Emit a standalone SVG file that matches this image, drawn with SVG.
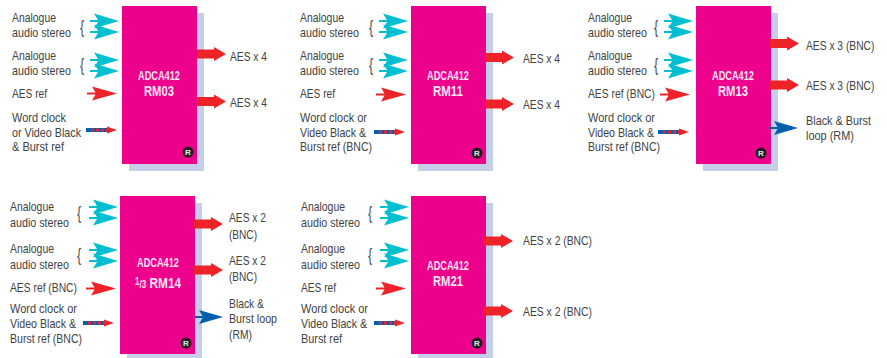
<svg xmlns="http://www.w3.org/2000/svg" width="887" height="358" viewBox="0 0 887 358">
<style>
text{font-family:"Liberation Sans",Arial,sans-serif}
.l{font-size:13px;fill:#424242}
.b{font-size:18px;fill:#505050;text-anchor:middle}
.t{font-size:12.5px;font-weight:bold;fill:#fde4f2;text-anchor:middle}
.n{font-size:14.5px;font-weight:bold;fill:#fde4f2;text-anchor:middle}
.r{font-size:8px;font-weight:bold;fill:#e8e8e8;text-anchor:middle}
.body{fill:#ec008c}
.sh{fill:#c5d0e8}
.bd{fill:#231f20}
</style>
<defs>
<g id="cy"><path d="M0,0L-25,-7.5L-21,-1L-29,-1L-29,1L-21,1L-25,7.5Z" fill="#00bfd0"/></g>
<g id="ref"><path d="M0,0L-25,-7L-21.500,-1L-30,-1L-30,1L-21.500,1L-25,7Z" fill="#ee2328"/></g>
<g id="out"><path d="M0,0L-12,-7L-12,-4.5L-29,-4.5L-29,4.5L-12,4.5L-12,7Z" fill="#ee2328"/></g>
<g id="blu"><path d="M0,0L-24,-7L-20.500,-1L-28,-1L-28,1L-20.500,1L-24,7Z" fill="#0060ae"/></g>
<g id="dot"><rect x="-31" y="-2" width="24" height="4" fill="#0060ae"/><path d="M-26,0H-8" stroke="#ee2328" stroke-width="3" stroke-dasharray="3 2" fill="none"/><path d="M0,0L-10,-3.5L-10,3.5Z" fill="#ee2328"/></g>
</defs>

<g id="node-rm03">
<rect class="sh" x="129" y="13" width="75" height="158"/><rect class="body" x="122" y="6" width="75" height="158"/>
<text class="t" x="159" y="80" textLength="42" lengthAdjust="spacingAndGlyphs">ADCA412</text>
<text class="n" x="159" y="96" textLength="30" lengthAdjust="spacingAndGlyphs">RM03</text>
<circle class="bd" cx="188" cy="152" r="5.5"/><text class="r" x="188" y="155">R</text>
<text class="l" x="12" y="22" textLength="44" lengthAdjust="spacingAndGlyphs">Analogue</text>
<text class="l" transform="translate(12 37) scale(.825 1)">audio stereo</text>
<text class="b" transform="translate(82 33) scale(.7 1)">{</text>
<text class="l" x="12" y="60" textLength="44" lengthAdjust="spacingAndGlyphs">Analogue</text>
<text class="l" transform="translate(12 75) scale(.825 1)">audio stereo</text>
<text class="b" transform="translate(82 71) scale(.7 1)">{</text>
<text class="l" x="12" y="98" textLength="35" lengthAdjust="spacingAndGlyphs">AES ref</text>
<text class="l" x="12" y="122" textLength="54" lengthAdjust="spacingAndGlyphs">Word clock</text>
<text class="l" x="12" y="137" textLength="69" lengthAdjust="spacingAndGlyphs">or Video Black</text>
<text class="l" x="12" y="151" textLength="52" lengthAdjust="spacingAndGlyphs">&amp; Burst ref</text>
<text class="l" x="230" y="61" textLength="37" lengthAdjust="spacingAndGlyphs">AES x 4</text>
<text class="l" x="230" y="107" textLength="37" lengthAdjust="spacingAndGlyphs">AES x 4</text>
</g>

<g id="node-rm11">
<rect class="sh" x="418" y="13" width="75" height="158"/><rect class="body" x="411" y="6" width="75" height="158"/>
<text class="t" x="448" y="80" textLength="42" lengthAdjust="spacingAndGlyphs">ADCA412</text>
<text class="n" x="448" y="96" textLength="30" lengthAdjust="spacingAndGlyphs">RM11</text>
<circle class="bd" cx="477" cy="153" r="5.5"/><text class="r" x="477" y="156">R</text>
<text class="l" x="300" y="22" textLength="44" lengthAdjust="spacingAndGlyphs">Analogue</text>
<text class="l" transform="translate(300 37) scale(.825 1)">audio stereo</text>
<text class="b" transform="translate(371 33) scale(.7 1)">{</text>
<text class="l" x="300" y="60" textLength="44" lengthAdjust="spacingAndGlyphs">Analogue</text>
<text class="l" transform="translate(300 75) scale(.825 1)">audio stereo</text>
<text class="b" transform="translate(371 71) scale(.7 1)">{</text>
<text class="l" x="300" y="98" textLength="35" lengthAdjust="spacingAndGlyphs">AES ref</text>
<text class="l" x="300" y="122" textLength="67" lengthAdjust="spacingAndGlyphs">Word clock or</text>
<text class="l" x="300" y="137" textLength="66" lengthAdjust="spacingAndGlyphs">Video Black &amp;</text>
<text class="l" x="300" y="151" textLength="72" lengthAdjust="spacingAndGlyphs">Burst ref (BNC)</text>
<text class="l" x="523" y="63" textLength="37" lengthAdjust="spacingAndGlyphs">AES x 4</text>
<text class="l" x="523" y="109" textLength="37" lengthAdjust="spacingAndGlyphs">AES x 4</text>
</g>

<g id="node-rm13">
<rect class="sh" x="703" y="13" width="75" height="158"/><rect class="body" x="696" y="6" width="75" height="158"/>
<text class="t" x="733" y="80" textLength="42" lengthAdjust="spacingAndGlyphs">ADCA412</text>
<text class="n" x="733" y="96" textLength="30" lengthAdjust="spacingAndGlyphs">RM13</text>
<circle class="bd" cx="761" cy="153" r="5.5"/><text class="r" x="761" y="156">R</text>
<text class="l" x="588" y="22" textLength="44" lengthAdjust="spacingAndGlyphs">Analogue</text>
<text class="l" transform="translate(588 37) scale(.825 1)">audio stereo</text>
<text class="b" transform="translate(656 33) scale(.7 1)">{</text>
<text class="l" x="588" y="60" textLength="44" lengthAdjust="spacingAndGlyphs">Analogue</text>
<text class="l" transform="translate(588 75) scale(.825 1)">audio stereo</text>
<text class="b" transform="translate(656 71) scale(.7 1)">{</text>
<text class="l" x="588" y="98" textLength="67" lengthAdjust="spacingAndGlyphs">AES ref (BNC)</text>
<text class="l" x="588" y="122" textLength="67" lengthAdjust="spacingAndGlyphs">Word clock or</text>
<text class="l" x="588" y="137" textLength="66" lengthAdjust="spacingAndGlyphs">Video Black &amp;</text>
<text class="l" x="588" y="151" textLength="72" lengthAdjust="spacingAndGlyphs">Burst ref (BNC)</text>
<text class="l" transform="translate(806 50) scale(.79 1)">AES x 3 (BNC)</text>
<text class="l" transform="translate(806 90) scale(.79 1)">AES x 3 (BNC)</text>
<text class="l" x="806" y="125" textLength="65" lengthAdjust="spacingAndGlyphs">Black &amp; Burst</text>
<text class="l" x="806" y="140" textLength="48" lengthAdjust="spacingAndGlyphs">loop (RM)</text>
</g>

<g id="node-rm14">
<rect class="sh" x="127" y="203" width="75" height="155"/><rect class="body" x="120" y="196" width="75" height="158"/>
<text class="t" x="158" y="267" textLength="42" lengthAdjust="spacingAndGlyphs">ADCA412</text>
<text class="n" x="158" y="288" textLength="46" lengthAdjust="spacingAndGlyphs"><tspan font-size="10" dy="-3">1</tspan><tspan font-size="10" dy="3">/3</tspan> RM14</text>
<circle class="bd" cx="186" cy="343" r="5.5"/><text class="r" x="186" y="346">R</text>
<text class="l" x="10" y="211" textLength="44" lengthAdjust="spacingAndGlyphs">Analogue</text>
<text class="l" transform="translate(10 227) scale(.825 1)">audio stereo</text>
<text class="b" transform="translate(79 219) scale(.7 1)">{</text>
<text class="l" x="10" y="253" textLength="44" lengthAdjust="spacingAndGlyphs">Analogue</text>
<text class="l" transform="translate(10 269) scale(.825 1)">audio stereo</text>
<text class="b" transform="translate(79 261) scale(.7 1)">{</text>
<text class="l" x="10" y="292" textLength="67" lengthAdjust="spacingAndGlyphs">AES ref (BNC)</text>
<text class="l" x="10" y="313" textLength="67" lengthAdjust="spacingAndGlyphs">Word clock or</text>
<text class="l" x="10" y="328" textLength="66" lengthAdjust="spacingAndGlyphs">Video Black &amp;</text>
<text class="l" x="10" y="343" textLength="72" lengthAdjust="spacingAndGlyphs">Burst ref (BNC)</text>
<text class="l" x="229" y="222" textLength="37" lengthAdjust="spacingAndGlyphs">AES x 2</text>
<text class="l" x="229" y="239" textLength="28" lengthAdjust="spacingAndGlyphs">(BNC)</text>
<text class="l" x="229" y="265" textLength="37" lengthAdjust="spacingAndGlyphs">AES x 2</text>
<text class="l" x="229" y="281" textLength="28" lengthAdjust="spacingAndGlyphs">(BNC)</text>
<text class="l" x="229" y="308" textLength="35" lengthAdjust="spacingAndGlyphs">Black &amp;</text>
<text class="l" x="229" y="323" textLength="48" lengthAdjust="spacingAndGlyphs">Burst loop</text>
<text class="l" x="229" y="339" textLength="23" lengthAdjust="spacingAndGlyphs">(RM)</text>
</g>

<g id="node-rm21">
<rect class="sh" x="418" y="203" width="75" height="155"/><rect class="body" x="411" y="196" width="75" height="158"/>
<text class="t" x="448" y="270" textLength="42" lengthAdjust="spacingAndGlyphs">ADCA412</text>
<text class="n" x="448" y="286" textLength="30" lengthAdjust="spacingAndGlyphs">RM21</text>
<circle class="bd" cx="477" cy="343" r="5.5"/><text class="r" x="477" y="346">R</text>
<text class="l" x="301" y="211" textLength="44" lengthAdjust="spacingAndGlyphs">Analogue</text>
<text class="l" transform="translate(301 227) scale(.825 1)">audio stereo</text>
<text class="b" transform="translate(370 219) scale(.7 1)">{</text>
<text class="l" x="301" y="253" textLength="44" lengthAdjust="spacingAndGlyphs">Analogue</text>
<text class="l" transform="translate(301 269) scale(.825 1)">audio stereo</text>
<text class="b" transform="translate(370 261) scale(.7 1)">{</text>
<text class="l" x="301" y="292" textLength="35" lengthAdjust="spacingAndGlyphs">AES ref</text>
<text class="l" x="301" y="313" textLength="67" lengthAdjust="spacingAndGlyphs">Word clock or</text>
<text class="l" x="301" y="328" textLength="66" lengthAdjust="spacingAndGlyphs">Video Black &amp;</text>
<text class="l" x="301" y="343" textLength="41" lengthAdjust="spacingAndGlyphs">Burst ref</text>
<text class="l" x="523" y="245" textLength="69" lengthAdjust="spacingAndGlyphs">AES x 2 (BNC)</text>
<text class="l" x="523" y="316" textLength="69" lengthAdjust="spacingAndGlyphs">AES x 2 (BNC)</text>
</g>

<g id="connectors">
<use href="#cy" x="119" y="21"/><use href="#cy" x="119" y="32"/><use href="#cy" x="119" y="60"/><use href="#cy" x="119" y="71"/>
<use href="#ref" x="117" y="93.5"/><use href="#dot" x="117" y="130"/>
<use href="#out" x="226" y="54"/><use href="#out" x="226" y="101.5"/>

<use href="#cy" x="408" y="21"/><use href="#cy" x="408" y="32"/><use href="#cy" x="408" y="60"/><use href="#cy" x="408" y="71"/>
<use href="#ref" x="406" y="94.5"/><use href="#dot" x="405" y="132"/>
<use href="#out" x="514" y="57.5"/><use href="#out" x="514" y="104"/>

<use href="#cy" x="693" y="21"/><use href="#cy" x="693" y="32"/><use href="#cy" x="693" y="60"/><use href="#cy" x="693" y="71"/>
<use href="#ref" x="690" y="94.5"/><use href="#dot" x="689" y="132"/>
<use href="#out" x="799" y="43.5"/><use href="#out" x="799" y="85"/><use href="#blu" x="798" y="128"/>

<use href="#cy" x="118" y="207"/><use href="#cy" x="118" y="218"/><use href="#cy" x="118" y="250"/><use href="#cy" x="118" y="261"/>
<use href="#ref" x="116" y="288.5"/><use href="#dot" x="114" y="323"/>
<use href="#out" x="223" y="224"/><use href="#out" x="223" y="270"/><use href="#blu" x="223" y="317"/>

<use href="#cy" x="409" y="207"/><use href="#cy" x="409" y="218"/><use href="#cy" x="409" y="250"/><use href="#cy" x="409" y="261"/>
<use href="#ref" x="406" y="288.5"/><use href="#dot" x="405" y="323"/>
<use href="#out" x="513" y="241"/><use href="#out" x="513" y="311"/>
</g>
</svg>
